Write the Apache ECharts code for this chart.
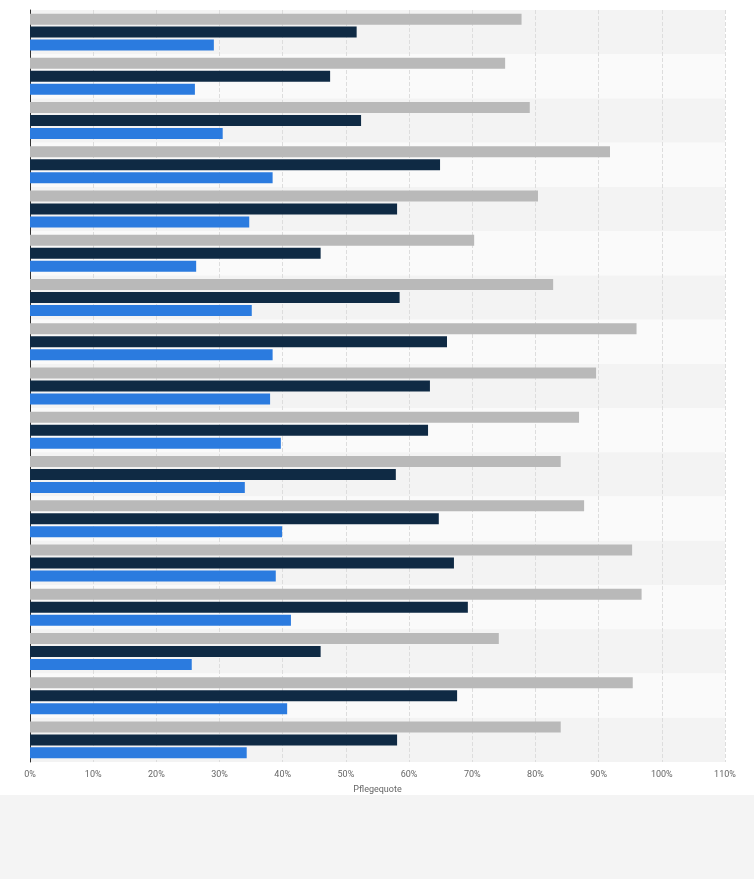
<!DOCTYPE html>
<html><head><meta charset="utf-8">
<script src="https://cdn.jsdelivr.net/npm/echarts@6/dist/echarts.min.js"></script>
<style>html,body{margin:0;padding:0;background:#fff}#c{width:754px;height:879px}</style>
</head><body><div id="c"></div>
<script>
const categories = ['1','2','3','4','5','6','7','8','9','10','11','12','13','14','15','16','17'];
const seriesGray = [77.8,75.2,79.1,91.8,80.4,70.3,82.8,96.0,89.6,86.9,84.0,87.7,95.3,96.8,74.2,95.4,84.0];
const seriesNavy = [51.7,47.5,52.4,64.9,58.1,46.0,58.5,66.0,63.3,63.0,57.9,64.7,67.1,69.3,46.0,67.6,58.1];
const seriesBlue = [29.1,26.1,30.5,38.4,34.7,26.3,35.1,38.4,38.0,39.7,34.0,39.9,38.9,41.3,25.6,40.7,34.3];
const xTicks = [0,10,20,30,40,50,60,70,80,90,100,110];
const chart = echarts.init(document.getElementById('c'));
const mk = (d, c) => ({type:'bar', data:d, barWidth:11, barGap:'18%', itemStyle:{color:c}, silent:true});
chart.setOption({
  animation:false,
  graphic:[{type:'rect', z:-10, shape:{x:0,y:795,width:754,height:84}, style:{fill:'#f4f4f4'}}],
  grid:{left:30,right:29,top:10,bottom:117},
  xAxis:{type:'value',min:0,max:110,interval:10,
    axisLabel:{formatter:v=>v+'%',color:'#666',fontSize:9,fontFamily:'Roboto'},
    splitLine:{show:true,lineStyle:{type:'dashed',color:'#ddd'}},
    axisLine:{show:false},axisTick:{show:false},
    name:'Pflegequote',nameLocation:'middle',nameGap:23,nameTextStyle:{color:'#666',fontSize:9,fontFamily:'Roboto'}},
  yAxis:{type:'category',data:categories,inverse:true,
    axisLabel:{show:false},axisTick:{show:false},
    axisLine:{show:true,lineStyle:{color:'#333'}},
    splitArea:{show:true,areaStyle:{color:['#f3f3f3','#fafafa']}}},
  series:[mk(seriesGray,'#b9b9b9'),mk(seriesNavy,'#0f2a44'),mk(seriesBlue,'#2b7bdf')]
});
</script></body></html>
